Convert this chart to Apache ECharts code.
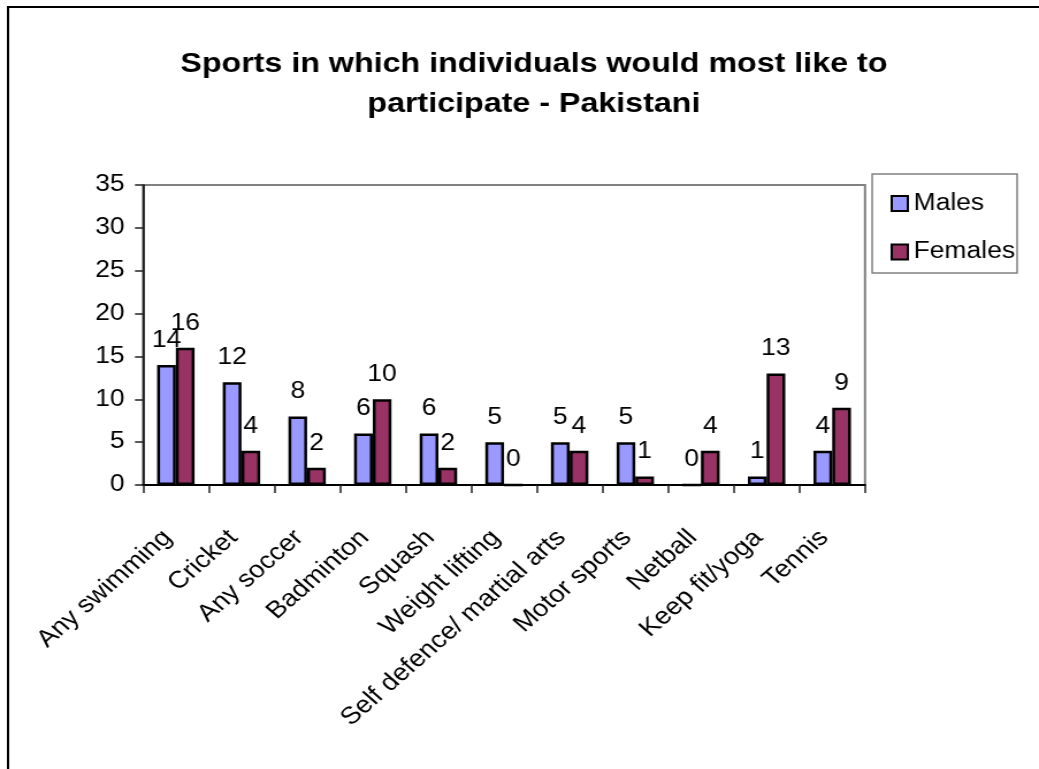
<!DOCTYPE html>
<html>
<head>
<meta charset="utf-8">
<script src="https://cdn.jsdelivr.net/npm/echarts@6/dist/echarts.min.js"></script>
<style>
  html, body { margin: 0; padding: 0; background: #fff; overflow: hidden; }
  /* The chart is laid out at 903px wide and widened to the 1039px page,
     which gives the text its broad, stretched look. */
  #chart { width: 903px; height: 769px; transform: scaleX(1.1506); transform-origin: 0 0; }
</style>
</head>
<body>
<div id="chart"></div>
<script>
// Survey results: preferred sports by gender
const titleText = 'Sports in which individuals would most like to\nparticipate - Pakistani';
const categories = ['Any swimming', 'Cricket', 'Any soccer', 'Badminton', 'Squash', 'Weight lifting',
  'Self defence/ martial arts', 'Motor sports', 'Netball', 'Keep fit/yoga', 'Tennis'];
const seriesNames = ['Males', 'Females'];
const males = [14, 12, 8, 6, 6, 5, 5, 5, 0, 1, 4];
const females = [16, 4, 2, 10, 2, 0, 4, 1, 4, 13, 9];
const yTicks = { min: 0, max: 35, interval: 5 };

const FONT = '"Liberation Sans", Arial, sans-serif';
const FS = 23;
const chart = echarts.init(document.getElementById('chart'), null, { renderer: 'canvas' });

const labelStyle = {
  show: true, position: 'top', distance: 13,
  color: '#000', fontSize: FS, fontFamily: FONT
};

chart.setOption({
  backgroundColor: '#fff',
  animation: false,
  graphic: [
    { type: 'rect', shape: { x: 7, y: 7, width: 1000, height: 800 },
      style: { fill: 'none', stroke: '#000', lineWidth: 2 }, z: 0 },
    { type: 'text', x: 464, y: 44,
      style: { text: titleText, textAlign: 'center', fill: '#000',
        font: 'bold 28px ' + FONT, lineHeight: 40 } },
    { type: 'rect', shape: { x: 758, y: 174, width: 126, height: 99 },
      style: { fill: '#fff', stroke: '#808080', lineWidth: 1.5 }, z: 0 }
  ],
  legend: {
    data: seriesNames,
    icon: 'rect',
    orient: 'vertical', left: 769, top: 187,
    itemWidth: 14, itemHeight: 15, itemGap: 25.5,
    textStyle: { color: '#000', fontSize: FS, fontFamily: FONT },
    z: 5
  },
  grid: {
    left: 124.3, right: 151.2, top: 185, bottom: 284,
    show: true, borderColor: '#808080', borderWidth: 2, backgroundColor: '#fff'
  },
  xAxis: {
    type: 'category', data: categories,
    axisLine: { lineStyle: { color: '#000', width: 2 } },
    axisTick: { show: true, length: 8, lineStyle: { color: '#222', width: 1.5 } },
    axisLabel: { rotate: 45, margin: 42, padding: [0, 10, 0, 0], interval: 0,
      color: '#000', fontSize: 24, fontFamily: FONT }
  },
  yAxis: {
    type: 'value', min: yTicks.min, max: yTicks.max, interval: yTicks.interval,
    splitLine: { show: false },
    axisLine: { show: true, lineStyle: { color: '#000', width: 1.5 } },
    axisTick: { show: true, length: 7, lineStyle: { color: '#222', width: 1.5 } },
    axisLabel: { margin: 16, color: '#000', fontSize: FS, fontFamily: FONT }
  },
  series: [
    { name: seriesNames[0], type: 'bar', data: males, barGap: '0%', barCategoryGap: '43%',
      itemStyle: { color: '#9999FF', borderColor: '#000', borderWidth: 2.5 }, label: labelStyle },
    { name: seriesNames[1], type: 'bar', data: females, barGap: '0%', barCategoryGap: '43%',
      itemStyle: { color: '#993366', borderColor: '#000', borderWidth: 2.5 }, label: labelStyle }
  ]
});
</script>
</body>
</html>
